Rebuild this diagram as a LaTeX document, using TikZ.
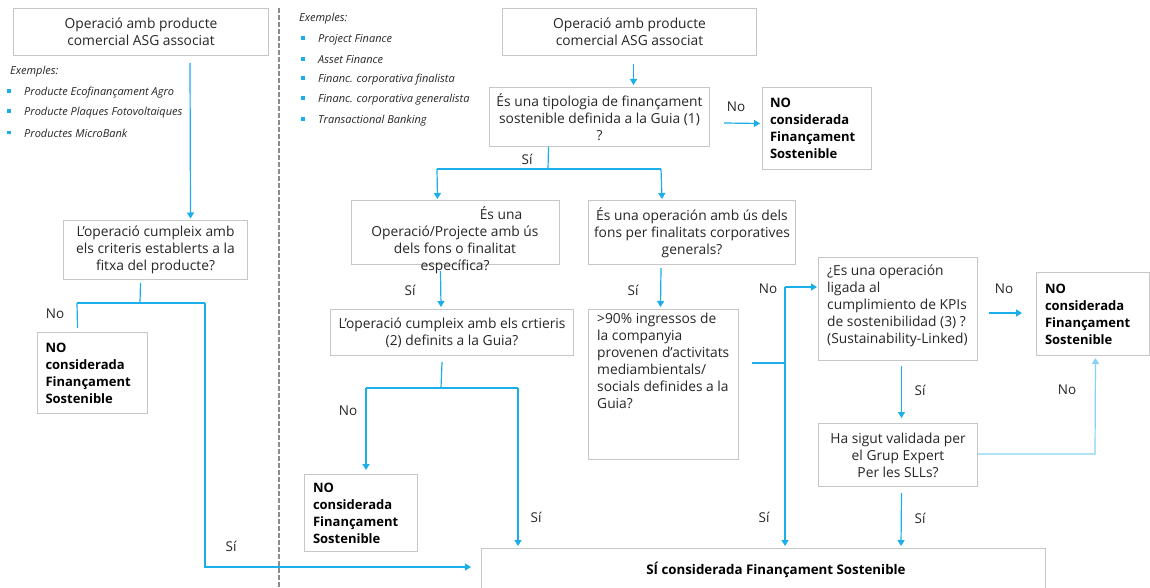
\documentclass[tikz,border=0pt]{standalone}
\usepackage{fontspec}
\setmainfont{Open Sans}
\usetikzlibrary{arrows.meta,calc}
\definecolor{cb}{HTML}{1AAEEA}
\definecolor{cbl}{HTML}{86D2F2}
\definecolor{bgr}{HTML}{C6C6C6}
\definecolor{tx}{HTML}{262626}
\definecolor{dg}{HTML}{8C8C8C}
\begin{document}
\begin{tikzpicture}[x=1pt,y=-1pt,
  box/.style={draw=bgr, line width=1pt, anchor=north west, inner sep=0pt, text=tx},
  nrm/.style={font=\fontsize{13.8}{17}\selectfont},
  bld/.style={font=\fontsize{13}{17}\selectfont\bfseries, text=black},
  lnk/.style={draw=cb, line width=1.2pt},
  arr/.style={lnk, -{Triangle[length=6pt,width=7pt]}},
  lbl/.style={text=tx, font=\fontsize{13.5}{15}\selectfont, inner sep=0pt},
  ex/.style={text=tx, font=\fontsize{11}{12}\selectfont\itshape, inner sep=0pt, anchor=west},
  txt/.style={text=tx, inner sep=0pt}
]
\useasboundingbox (0,0) rectangle (1150,588);
\fill[white] (0,0) rectangle (1150,588);
\clip (0,0) rectangle (1150,588);
\newcommand{\bsq}{{\color{cb}\rule[3pt]{3.5pt}{3.5pt}}}

% separator
\draw[dg, line width=2pt, dash pattern=on 5pt off 2pt] (279,8) -- (279,588);

% ---------- left column ----------
\node[box, nrm, minimum width=255pt, minimum height=47pt, align=center] (b1) at (13,8)
  {Operació amb producte\\comercial ASG associat};
\node[ex] (exL) at (10,72) {Exemples:};
\node[ex] (exL1) at (7,93) {\bsq\hspace{13.5pt}Producte Ecofinançament Agro};
\node[ex] (exL2) at (7,113) {\bsq\hspace{13.5pt}Producte Plaques Fotovoltaiques};
\node[ex] (exL3) at (7,133) {\bsq\hspace{13.5pt}Productes MicroBank};

\node[box, nrm, minimum width=184pt, minimum height=59pt, align=center] (b2) at (63,220)
  {L’operació cumpleix amb\\els criteris establerts a la\\fitxa del producte?};
\node[box, bld, minimum width=110pt, minimum height=81pt, text width=94pt, align=left] (noL) at (37,332)
  {NO\\considerada\\Finançament\\Sostenible};

% ---------- middle ----------
\node[ex] (exM) at (299,19) {Exemples:};
\node[ex] (exM1) at (301,40) {\bsq\hspace{13.5pt}Project Finance};
\node[ex] (exM2) at (301,60) {\bsq\hspace{13.5pt}Asset Finance};
\node[ex] (exM3) at (301,80) {\bsq\hspace{13.5pt}Financ. corporativa finalista};
\node[ex] (exM4) at (301,100) {\bsq\hspace{13.5pt}Financ. corporativa generalista};
\node[ex] (exM5) at (301,121) {\bsq\hspace{13.5pt}Transactional Banking};

\node[box, nrm, minimum width=254pt, minimum height=47pt, align=center] (b3) at (502,8)
  {Operació amb producte\\comercial ASG associat};
\node[box, nrm, minimum width=220pt, minimum height=59pt, align=center] (q1) at (489,87)
  {És una tipologia de finançament\\sostenible definida a la Guia (1)\\?};
\node[box, bld, minimum width=109pt, minimum height=82pt, text width=94pt, align=left] (no1) at (762,87)
  {NO\\considerada\\Finançament\\Sostenible};

\node[box, minimum width=208pt, minimum height=64pt] (q2a) at (351,200) {};
\node[txt, nrm, align=center] (q2at) at (455,240)
  {\hspace*{92pt}És una\\Operació/Projecte amb ús\\dels fons o finalitat\\específica?};
\node[box, nrm, minimum width=207pt, minimum height=64pt, align=center] (q2b) at (588,200)
  {És una operación amb ús dels\\fons per finalitats corporatives\\generals?};

\node[box, nrm, minimum width=243pt, minimum height=46pt, align=center] (q3a) at (330,309)
  {L’operació cumpleix amb els crtieris\\(2) definits a la Guia?};
\node[box, minimum width=150pt, minimum height=150pt] (q3b) at (588,309) {};
\node[txt, nrm, anchor=north west, align=left] (q3bt) at (597,313)
  {>90\% ingressos de\\la companyia\\provenen d’activitats\\mediambientals/\\socials definides a la\\Guia?};

\node[box, bld, minimum width=113pt, minimum height=77pt, text width=96pt, align=left] (noM) at (304,474)
  {NO\\considerada\\Finançament\\Sostenible};

% ---------- right ----------
\node[box, minimum width=159pt, minimum height=103pt] (q4) at (818,257) {};
\node[txt, nrm, anchor=west, align=left] (q4t) at (827,306)
  {¿Es una operación\\ligada al\\cumplimiento de KPIs\\de sostenibilidad (3) ?\\(Sustainability-Linked)};
\node[box, bld, minimum width=113pt, minimum height=83pt, text width=96pt, align=left] (no2) at (1036,272)
  {NO\\considerada\\Finançament\\Sostenible};
\node[box, nrm, minimum width=159pt, minimum height=63pt, align=center] (q5) at (818,423)
  {Ha sigut validada per\\el Grup Expert\\Per les SLLs?};

\node[box, minimum width=564pt, minimum height=52pt] (sb) at (481,548) {};
\node[txt, font=\fontsize{13.3}{15}\selectfont\bfseries, text=black] (sbt) at (776,570)
  {SÍ considerada Finançament Sostenible};

% ---------- junction coordinates ----------
\coordinate (jL)  at (140,303);
\coordinate (jLl) at (77,303);
\coordinate (jLr) at (205,303);
\coordinate (jLb) at (205,567);
\coordinate (j1)  at (548,169);
\coordinate (j1l) at (437,169);
\coordinate (j1r) at (661,169);
\coordinate (j3)  at (441,388);
\coordinate (j3l) at (366,388);
\coordinate (j3r) at (518,388);
\coordinate (jR)  at (785,363);
\coordinate (jRt) at (785,287);
\coordinate (jRb) at (785,546);
\coordinate (j5)  at (1095,454);

% ---------- connectors ----------
\draw[arr] (190,63) -- ([xshift=35pt,yshift=1.5pt]b2.north);
\draw[lnk] ([xshift=-15pt,yshift=-3pt]b2.south) -- (jL);
\draw[lnk] (jLl) -- (jLr);
\draw[lnk] (jLl) -- ([xshift=-15pt,yshift=4pt]noL.north);
\draw[arr] (jLr) -- (jLb) -- ([xshift=-10pt]sb.west |- jLb);

\draw[arr] ([xshift=4pt,yshift=-8pt]b3.south) -- ([xshift=34pt,yshift=2pt]q1.north);
\draw[arr] (724,123) -- ([xshift=-2pt,yshift=5pt]no1.west);
\draw[lnk] ([xshift=-51pt]q1.south) -- (j1);
\draw[lnk] (j1l) -- (j1r);
\draw[arr] (j1l) -- ([xshift=-18pt,yshift=1pt]q2a.north);
\draw[arr] (j1r) -- ([xshift=-30pt,yshift=1pt]q2b.north);

\draw[arr] ([xshift=-15pt,yshift=-6pt]q2a.south) -- ([xshift=-11pt,yshift=2pt]q3a.north);
\draw[lnk] ([xshift=-10pt,yshift=-6pt]q3a.south) -- (j3);
\draw[lnk] (j3l) -- (j3r);
\draw[arr] (j3l) -- ([xshift=5pt,yshift=4pt]noM.north);
\draw[arr] (j3r) -- ([xshift=37pt,yshift=2pt]sb.north west);

\draw[arr] ([xshift=-31pt,yshift=-3pt]q2b.south) -- ([xshift=-3pt,yshift=2pt]q3b.north);
\draw[lnk] (752,363) -- (jR);
\draw[lnk] (jRt) -- (jR);
\draw[arr] (jR) -- (jRb);
\draw[arr] (jRt) -- ([xshift=-1pt]q4.west |- jRt);

\draw[arr] (989,313) -- ([xshift=-14pt]no2.west |- 0,313);
\draw[arr] ([xshift=3.5pt,yshift=-5pt]q4.south) -- ([xshift=3.5pt,yshift=5pt]q5.north);
\draw[draw=cbl, line width=1.2pt, -{Triangle[length=6pt,width=7pt]}] (q5.east |- j5) -- (j5) -- ([xshift=2.5pt,yshift=-2pt]no2.south);
\draw[arr] ([xshift=3.5pt,yshift=-6pt]q5.south) -- ([xshift=420pt,yshift=2pt]sb.north west);

% ---------- labels ----------
\node[lbl] (lN1) at (55,314) {No};
\node[lbl] (lS1) at (231,546) {Sí};
\node[lbl] (lN2) at (736,107) {No};
\node[lbl] (lS2) at (527,159) {Sí};
\node[lbl] (lS3) at (410,290) {Sí};
\node[lbl] (lN3) at (348,411) {No};
\node[lbl] (lS4) at (536,517) {Sí};
\node[lbl] (lS5) at (633,290) {Sí};
\node[lbl] (lN4) at (768,289) {No};
\node[lbl] (lS6) at (764,517) {Sí};
\node[lbl] (lN5) at (1004,289) {No};
\node[lbl] (lS7) at (920,390) {Sí};
\node[lbl] (lN6) at (1067,390) {No};
\node[lbl] (lS8) at (920,518) {Sí};
\end{tikzpicture}
\end{document}
